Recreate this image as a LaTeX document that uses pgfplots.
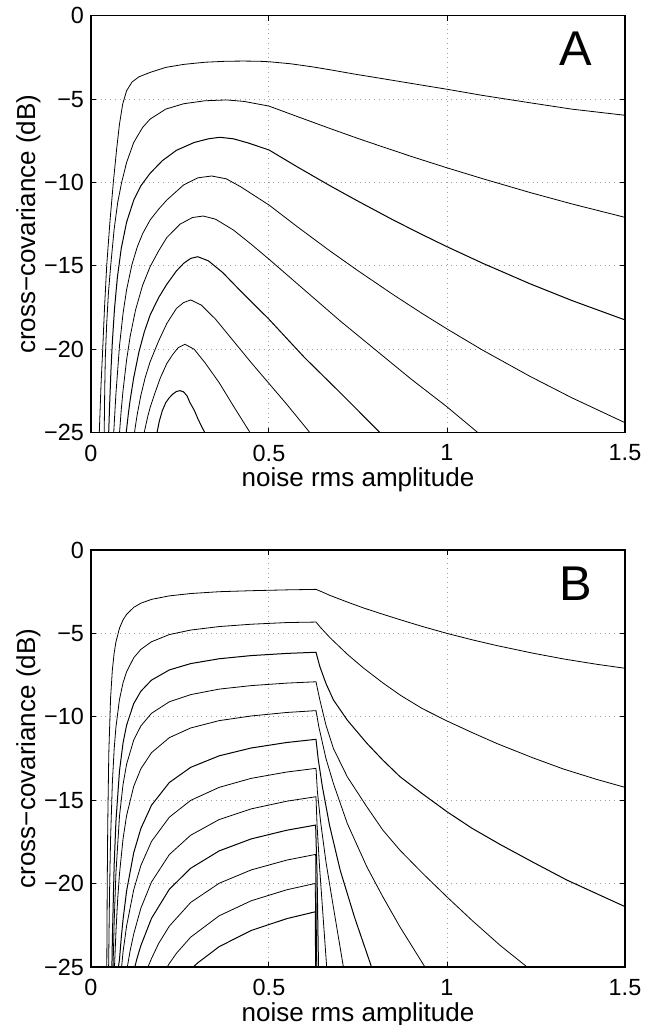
\documentclass[border=0pt]{standalone}
\usepackage{fontspec}
\setmainfont{Liberation Sans}
\usepackage{pgfplots}
\pgfplotsset{compat=1.18}

\pgfplotsset{
  mlab/.style={
    scale only axis, width=267pt, height=208.5pt,
    xmin=0, xmax=1.5, ymin=-25, ymax=0,
    xtick={0,0.5,1,1.5}, xticklabels={0,0.5,1,1.5},
    ytick={-25,-20,-15,-10,-5,0}, yticklabels={−25,−20,−15,−10,−5,0},
    tick align=inside, major tick length=2.5pt,
    grid=major, grid style={dotted, gray!75, line width=0.5pt},
    axis line style={line width=0.6pt},
    every tick/.style={black, line width=0.5pt},
    tick label style={font=\fontsize{11.7}{12}\selectfont},
    xticklabel style={yshift=-2.5pt},
    label style={font=\fontsize{13}{14}\selectfont},
    xlabel={noise rms amplitude},
    ylabel={cross−covariance (dB)},
    xlabel style={yshift=3.5pt},
    ylabel style={yshift=-5pt},
    cycle list={{black, solid, line width=0.5pt}},
    every axis plot/.append style={no markers},
  }
}

\begin{document}
\begin{tikzpicture}
\useasboundingbox (0,0) rectangle (325pt,512.5pt);

% ---- panel A ----
\begin{axis}[mlab, at={(45.5pt,296.15pt)}, anchor=south west]
\addplot coordinates {(0.0233,-25)(0.028,-22.2)(0.0329,-20)(0.038,-17.5)(0.0441,-15)(0.053,-12.4)(0.0627,-10)(0.072,-8.0)(0.080,-6.5)(0.089,-5.3)(0.10,-4.5)(0.115,-3.98)(0.135,-3.66)(0.166,-3.4)(0.21,-3.1)(0.26,-2.92)(0.32,-2.79)(0.38,-2.73)(0.428,-2.72)(0.47,-2.73)(0.5,-2.76)(0.56,-2.88)(0.62,-3.06)(0.671,-3.24)(0.74,-3.5)(0.812,-3.75)(0.9,-4.06)(1.0,-4.41)(1.1,-4.78)(1.233,-5.22)(1.35,-5.6)(1.5,-5.97)};
\addplot coordinates {(0.0371,-25)(0.0385,-22.5)(0.0402,-20.5)(0.044,-18.5)(0.049,-16.6)(0.0553,-15)(0.065,-12.8)(0.075,-11.2)(0.086,-10)(0.10,-8.8)(0.12,-7.6)(0.145,-6.7)(0.166,-6.2)(0.21,-5.6)(0.26,-5.28)(0.32,-5.1)(0.381,-5.05)(0.43,-5.14)(0.5,-5.42)(0.58,-6.05)(0.671,-6.76)(0.75,-7.36)(0.812,-7.81)(0.9,-8.44)(1.0,-9.12)(1.1,-9.77)(1.233,-10.6)(1.35,-11.28)(1.5,-12.09)};
\addplot coordinates {(0.0497,-25)(0.052,-23.53)(0.056,-21.28)(0.06,-19.55)(0.066,-17.58)(0.074,-15.71)(0.085,-13.95)(0.10,-12.38)(0.12,-11.06)(0.14,-10.20)(0.166,-9.45)(0.20,-8.7)(0.24,-8.07)(0.29,-7.6)(0.33,-7.38)(0.362,-7.29)(0.40,-7.38)(0.44,-7.62)(0.5,-8.05)(0.58,-9.07)(0.671,-10.19)(0.75,-11.12)(0.85,-12.26)(0.93,-13.12)(1.0,-13.85)(1.1,-14.84)(1.233,-16.07)(1.35,-17.07)(1.5,-18.24)};
\addplot coordinates {(0.0638,-25)(0.07,-22.68)(0.08,-19.80)(0.09,-17.85)(0.10,-16.43)(0.115,-14.92)(0.13,-13.86)(0.145,-13.07)(0.166,-12.25)(0.19,-11.6)(0.213,-11.05)(0.26,-10.15)(0.30,-9.72)(0.339,-9.61)(0.38,-9.78)(0.42,-10.25)(0.5,-11.35)(0.58,-12.66)(0.671,-14.10)(0.75,-15.29)(0.85,-16.74)(0.93,-17.85)(1.0,-18.78)(1.1,-20.05)(1.233,-21.62)(1.35,-22.9)(1.5,-24.4)};
\addplot coordinates {(0.0801,-25)(0.085,-23.62)(0.09,-22.47)(0.10,-20.64)(0.11,-19.23)(0.125,-17.65)(0.145,-16.16)(0.166,-15.05)(0.19,-14.1)(0.213,-13.3)(0.25,-12.5)(0.285,-12.1)(0.315,-12.01)(0.35,-12.2)(0.40,-12.85)(0.45,-13.7)(0.5,-14.6)(0.6,-16.45)(0.7,-18.3)(0.8,-20.05)(0.9,-21.8)(1.0,-23.45)(1.087,-25)};
\addplot coordinates {(0.0989,-25)(0.105,-23.85)(0.11,-23.04)(0.12,-21.7)(0.135,-20.13)(0.15,-18.94)(0.166,-17.95)(0.19,-16.9)(0.213,-16.1)(0.24,-15.3)(0.26,-14.85)(0.28,-14.55)(0.30,-14.45)(0.33,-14.7)(0.37,-15.4)(0.42,-16.5)(0.5,-18.2)(0.6,-20.5)(0.7,-22.6)(0.812,-25)};
\addplot coordinates {(0.1222,-25)(0.125,-24.57)(0.13,-23.89)(0.14,-22.77)(0.152,-21.71)(0.166,-20.75)(0.19,-19.5)(0.213,-18.45)(0.24,-17.55)(0.26,-17.2)(0.28,-17.04)(0.31,-17.35)(0.35,-18.2)(0.40,-19.5)(0.45,-20.8)(0.5,-22.05)(0.55,-23.3)(0.615,-25)};
\addplot coordinates {(0.1494,-25)(0.155,-24.45)(0.16,-23.98)(0.166,-23.5)(0.18,-22.6)(0.195,-21.7)(0.213,-20.85)(0.23,-20.3)(0.245,-19.9)(0.264,-19.7)(0.29,-20.0)(0.32,-20.8)(0.36,-22.0)(0.40,-23.4)(0.447,-25)};
\addplot coordinates {(0.1854,-25)(0.192,-24.3)(0.20,-23.7)(0.21,-23.2)(0.22,-22.9)(0.23,-22.68)(0.24,-22.53)(0.25,-22.48)(0.26,-22.55)(0.27,-22.8)(0.278,-23.2)(0.29,-23.65)(0.30,-24.15)(0.31,-24.6)(0.320,-25)};
\node[font=\fontsize{24.4}{26}\selectfont] at (axis cs:1.362,-2.0) {A};
\end{axis}

% ---- panel B ----
\begin{axis}[mlab, at={(45.5pt,29pt)}, anchor=south west]
\addplot coordinates {(0.0444,-25)(0.0455,-20.4)(0.047,-16.48)(0.05,-12.19)(0.055,-8.86)(0.06,-7.19)(0.065,-6.19)(0.07,-5.52)(0.08,-4.69)(0.09,-4.19)(0.10,-3.86)(0.12,-3.44)(0.14,-3.19)(0.17,-2.96)(0.22,-2.75)(0.28,-2.61)(0.36,-2.50)(0.45,-2.44)(0.55,-2.39)(0.632,-2.36)(0.65,-2.52)(0.671,-2.72)(0.72,-3.12)(0.765,-3.47)(0.812,-3.80)(0.87,-4.19)(0.93,-4.58)(1.0,-5.0)(1.07,-5.38)(1.14,-5.73)(1.24,-6.18)(1.327,-6.53)(1.42,-6.85)(1.5,-7.09)};
\addplot coordinates {(0.0495,-25)(0.052,-20.63)(0.055,-17.30)(0.06,-13.96)(0.065,-11.96)(0.07,-10.63)(0.08,-8.96)(0.09,-7.96)(0.10,-7.30)(0.12,-6.46)(0.14,-5.96)(0.17,-5.50)(0.22,-5.07)(0.28,-4.80)(0.36,-4.59)(0.45,-4.45)(0.55,-4.35)(0.632,-4.32)(0.645,-4.65)(0.671,-5.25)(0.72,-6.25)(0.765,-7.07)(0.82,-7.97)(0.87,-8.72)(0.93,-9.5)(1.0,-10.25)(1.07,-10.94)(1.14,-11.6)(1.24,-12.45)(1.327,-13.13)(1.42,-13.75)(1.5,-14.23)};
\addplot coordinates {(0.0587,-25)(0.06,-23.35)(0.065,-18.93)(0.07,-16.28)(0.08,-13.25)(0.09,-11.57)(0.10,-10.50)(0.12,-9.21)(0.14,-8.47)(0.17,-7.80)(0.22,-7.19)(0.28,-6.81)(0.36,-6.52)(0.45,-6.33)(0.55,-6.20)(0.632,-6.13)(0.643,-7.0)(0.66,-8.0)(0.681,-8.99)(0.72,-10.2)(0.775,-11.59)(0.82,-12.6)(0.868,-13.59)(0.93,-14.6)(1.0,-15.69)(1.07,-16.68)(1.149,-17.65)(1.24,-18.7)(1.336,-19.78)(1.42,-20.6)(1.5,-21.38)};
\addplot coordinates {(0.062,-25)(0.065,-22.39)(0.07,-19.39)(0.08,-15.96)(0.09,-14.06)(0.10,-12.84)(0.12,-11.39)(0.14,-10.55)(0.17,-9.79)(0.22,-9.10)(0.28,-8.67)(0.36,-8.34)(0.45,-8.13)(0.55,-7.98)(0.632,-7.90)(0.643,-9.0)(0.66,-10.5)(0.681,-11.9)(0.72,-13.6)(0.775,-15.4)(0.82,-16.8)(0.868,-18.0)(0.93,-19.35)(1.0,-20.8)(1.07,-22.2)(1.149,-23.7)(1.225,-25)};
\addplot coordinates {(0.066,-25)(0.07,-22.92)(0.075,-20.92)(0.08,-19.42)(0.09,-17.32)(0.10,-15.92)(0.12,-14.17)(0.14,-13.12)(0.17,-12.15)(0.22,-11.25)(0.28,-10.67)(0.36,-10.23)(0.45,-9.95)(0.55,-9.74)(0.632,-9.63)(0.64,-10.6)(0.66,-12.5)(0.681,-14.0)(0.72,-16.4)(0.775,-19.0)(0.82,-20.8)(0.868,-22.6)(0.938,-25)};
\addplot coordinates {(0.077,-25)(0.08,-24.55)(0.085,-23.24)(0.09,-22.16)(0.10,-20.44)(0.12,-18.15)(0.14,-16.70)(0.17,-15.30)(0.22,-13.94)(0.28,-13.03)(0.36,-12.34)(0.45,-11.87)(0.55,-11.54)(0.632,-11.35)(0.638,-12.5)(0.65,-14.2)(0.67,-16.5)(0.70,-19.2)(0.74,-22.0)(0.788,-25)};
\addplot coordinates {(0.086,-25)(0.09,-24.10)(0.10,-22.54)(0.12,-20.37)(0.14,-18.92)(0.17,-17.47)(0.22,-16.02)(0.28,-15.01)(0.36,-14.23)(0.45,-13.69)(0.55,-13.31)(0.632,-13.09)(0.636,-14.5)(0.645,-16.3)(0.66,-18.7)(0.68,-21.3)(0.709,-25)};
\addplot coordinates {(0.102,-25)(0.11,-24.02)(0.12,-23.02)(0.14,-21.48)(0.17,-19.90)(0.22,-18.26)(0.28,-17.10)(0.36,-16.16)(0.45,-15.52)(0.55,-15.06)(0.632,-14.79)(0.635,-16.5)(0.642,-19.0)(0.652,-22.0)(0.662,-25)};
\addplot coordinates {(0.123,-25)(0.13,-24.43)(0.14,-23.72)(0.17,-22.08)(0.22,-20.34)(0.28,-19.08)(0.36,-18.04)(0.45,-17.32)(0.55,-16.80)(0.631,-16.49)(0.635,-19.5)(0.639,-25)};
\addplot coordinates {(0.160,-25)(0.17,-24.49)(0.19,-23.59)(0.22,-22.55)(0.28,-21.13)(0.36,-19.98)(0.45,-19.18)(0.55,-18.59)(0.631,-18.25)(0.634,-25)};
\addplot coordinates {(0.214,-25)(0.22,-24.79)(0.24,-24.18)(0.28,-23.21)(0.36,-21.93)(0.45,-21.03)(0.55,-20.37)(0.630,-19.99)(0.632,-25)};
\addplot coordinates {(0.287,-25)(0.30,-24.75)(0.36,-23.78)(0.45,-22.81)(0.55,-22.10)(0.630,-21.69)(0.631,-25)};
\node[font=\fontsize{24.4}{26}\selectfont] at (axis cs:1.362,-2.0) {B};
\end{axis}
\end{tikzpicture}
\end{document}
